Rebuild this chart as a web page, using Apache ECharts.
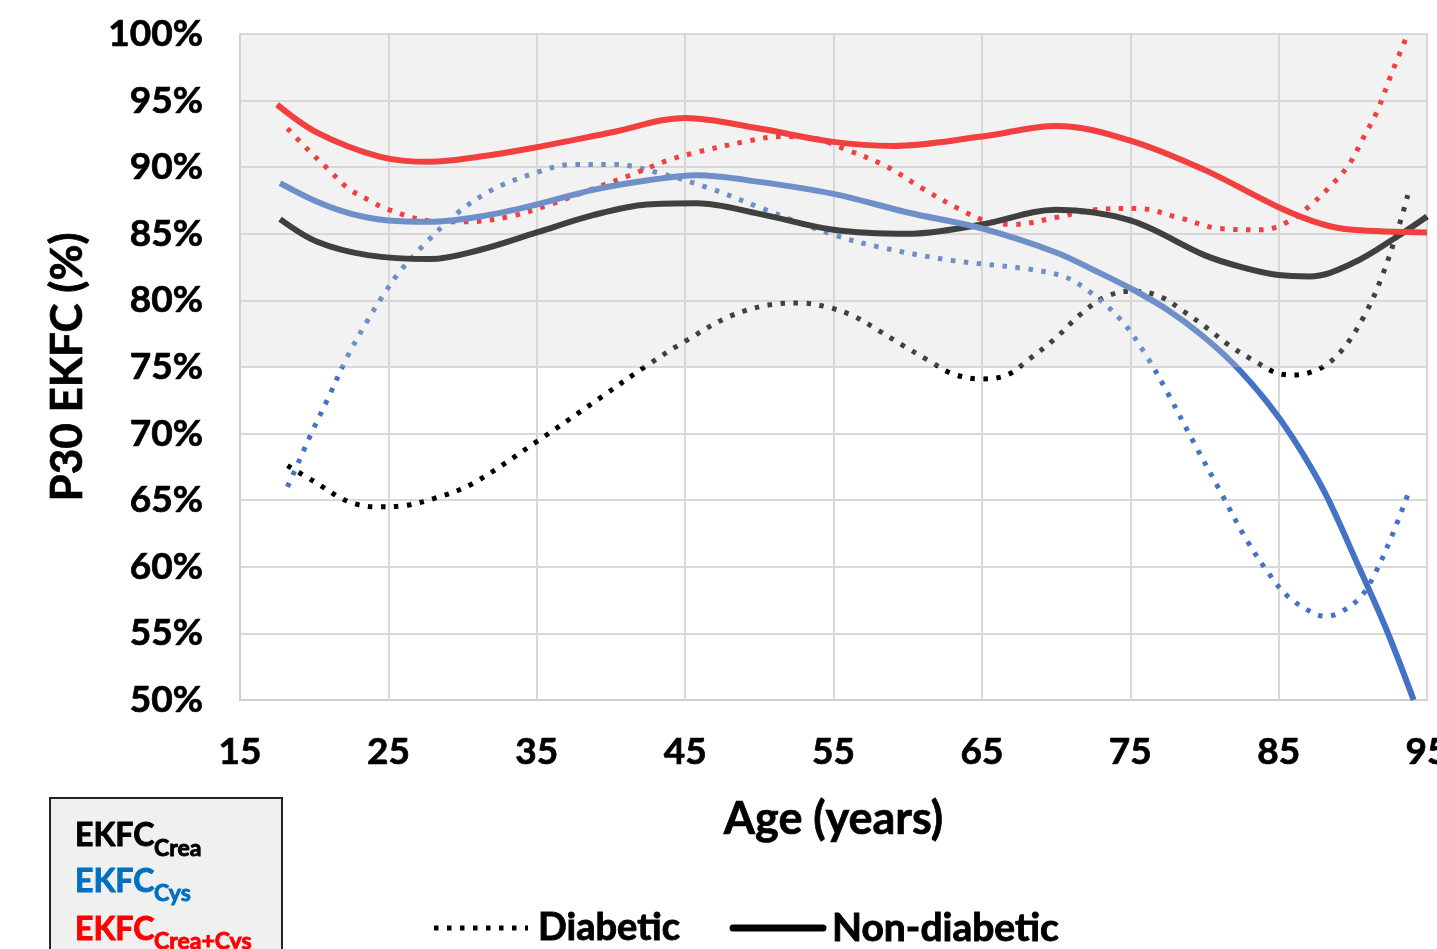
<!DOCTYPE html>
<html>
<head>
<meta charset="utf-8">
<script src="https://cdn.jsdelivr.net/npm/echarts@6/dist/echarts.min.js"></script>
<style>
  html, body { margin: 0; padding: 0; background: #fff; }
  #chart { width: 1437px; height: 949px; }
</style>
</head>
<body>
<div id="chart"></div>
<script>
// ages (x) and P30 values (%)
const creaNonAge = [17.7, 20.2, 23.6, 27.8, 31.2, 35, 38.8, 42.4, 45.8, 50, 55, 60, 65, 70, 75, 80, 82.5, 85, 87.1, 90, 93, 95];
const creaNon = [86.1, 84.4, 83.4, 83.1, 83.8, 85.1, 86.4, 87.2, 87.3, 86.5, 85.3, 85.0, 85.7, 86.8, 86.0, 83.4, 82.5, 81.9, 81.8, 82.8, 84.8, 86.3];

const cysNonAge = [17.7, 20.2, 22.5, 25, 27.8, 31.2, 35, 38.8, 42.4, 45.8, 50, 55, 60, 65, 70, 72.5, 75.2, 77.5, 79.7, 81.9, 84.2, 86.0, 88.1, 90.4, 92.3, 94.1];
const cysNon = [88.8, 87.4, 86.5, 86.0, 85.9, 86.3, 87.2, 88.3, 89.0, 89.4, 88.9, 88.0, 86.6, 85.4, 83.6, 82.3, 80.8, 79.3, 77.5, 75.3, 72.4, 69.6, 65.6, 60.0, 55.2, 50.0];

const bothNonAge = [17.5, 20.2, 24.4, 27.8, 31.2, 35, 40, 45, 50, 55, 59, 65, 70, 75, 80, 85, 88, 90, 95];
const bothNon = [94.7, 92.6, 90.8, 90.4, 90.8, 91.5, 92.6, 93.7, 92.9, 91.9, 91.6, 92.3, 93.1, 92.0, 89.8, 87.0, 85.7, 85.3, 85.1];

const creaDiaAge = [18.2, 20.0, 22.3, 24.2, 26.1, 28.0, 30.6, 35.0, 39.3, 42.4, 45.1, 48.0, 50.9, 52.7, 54.6, 56.4, 58.1, 59.7, 61.4, 63.0, 64.9, 66.7, 68.2, 69.8, 71.8, 73.4, 75.2, 77.0, 78.7, 80.2, 81.7, 83.3, 85.0, 86.0, 87.8, 89.3, 90.8, 92.0, 93.2, 93.7];
const creaDia = [67.6, 66.4, 64.9, 64.5, 64.6, 65.1, 66.2, 69.4, 72.7, 75.1, 77.0, 78.8, 79.7, 79.8, 79.5, 78.8, 77.7, 76.6, 75.5, 74.5, 74.1, 74.4, 75.6, 77.0, 79.1, 80.3, 80.7, 80.3, 79.1, 77.9, 76.6, 75.5, 74.5, 74.4, 74.9, 76.3, 78.9, 81.9, 85.9, 87.9];

const cysDiaAge = [18.2, 19.0, 19.8, 21.0, 22.2, 23.6, 24.6, 25.8, 27.6, 29.7, 32.0, 34.7, 37.4, 40.3, 43.1, 46.7, 50.2, 54.8, 58.1, 63.0, 67.8, 70.5, 72.2, 74.4, 76.0, 77.4, 79.2, 81.0, 82.8, 84.4, 85.6, 87.2, 88.1, 89.0, 90.5, 91.5, 92.7, 93.7];
const cysDia = [66.0, 68.0, 70.0, 72.8, 75.7, 78.5, 80.3, 82.2, 84.4, 86.6, 88.3, 89.5, 90.2, 90.2, 89.6, 88.4, 86.9, 85.0, 84.0, 83.0, 82.4, 81.8, 80.7, 78.5, 76.0, 73.3, 69.5, 65.8, 62.1, 59.4, 57.8, 56.6, 56.3, 56.5, 57.7, 59.5, 62.5, 65.4];

const bothDiaAge = [18.2, 19.5, 20.9, 22.3, 23.9, 24.8, 27.6, 30.3, 33.2, 35.9, 38.6, 41.3, 43.8, 45.7, 49.4, 51.4, 53.5, 55.9, 58.5, 61.0, 63.4, 65.2, 67.1, 69.9, 72.6, 75.5, 78.3, 81.0, 83.9, 85.8, 87.2, 88.6, 89.8, 90.7, 91.6, 92.6, 93.7];
const bothDia = [92.9, 91.4, 89.9, 88.4, 87.4, 86.9, 86.0, 85.9, 86.3, 87.2, 88.3, 89.4, 90.5, 91.1, 92.0, 92.3, 92.2, 91.3, 90.1, 88.4, 86.9, 86.0, 85.7, 86.2, 86.8, 86.9, 86.2, 85.4, 85.3, 86.0, 87.2, 88.7, 90.3, 92.2, 94.1, 97.0, 100.0];

const FONT = "Lato, 'Open Sans', sans-serif";

const zip = (xs, ys) => xs.map((x, i) => [x, ys[i]]);

const myChart = echarts.init(document.getElementById('chart'));

function solid(name, color, ages, vals) {
    return {
        name: name,
        type: 'line',
        data: zip(ages, vals),
        smooth: 0.35,
        showSymbol: false,
        symbol: 'none',
        z: 3,
        lineStyle: { color: color, width: 6 }
    };
}
function dotted(name, color, ages, vals) {
    return {
        name: name,
        type: 'line',
        data: zip(ages, vals),
        smooth: 0.35,
        showSymbol: false,
        symbol: 'none',
        z: 2,
        lineStyle: { color: color, width: 5, type: [4.5, 8.5] }
    };
}
// heavy bold text (thin outline in the same colour) for the legend boxes
function label(text, x, y, size, color) {
    return {
        type: 'text', x: x, y: y,
        style: {
            text: text, fill: color, fontFamily: FONT, fontSize: size, fontWeight: 'bold',
            stroke: color, lineWidth: 0.9, verticalAlign: 'middle'
        }
    };
}
const axisText = (size) => ({
    fontFamily: FONT, fontSize: size, fontWeight: 'bold', color: '#000',
    textBorderColor: '#000', textBorderWidth: 0.7
});

const option = {
    backgroundColor: '#fff',
    animation: false,
    grid: {
        left: 240,
        right: 10,
        top: 34,
        bottom: 249,
        show: true,
        borderColor: '#d9d9d9',
        borderWidth: 2,
        outerBoundsMode: 'none'
    },
    xAxis: {
        type: 'value',
        min: 15,
        max: 95,
        interval: 10,
        name: 'Age (years)',
        nameLocation: 'middle',
        nameGap: 97,
        nameTextStyle: axisText(45),
        axisLine: { show: true, lineStyle: { color: '#d0d0d0', width: 2 } },
        axisTick: { show: false },
        axisLabel: Object.assign(axisText(37), { margin: 34 }),
        splitLine: { show: true, lineStyle: { color: '#d9d9d9', width: 2 } }
    },
    yAxis: {
        type: 'value',
        min: 50,
        max: 100,
        interval: 5,
        name: 'P30 EKFC (%)',
        nameLocation: 'middle',
        nameGap: 150,
        nameTextStyle: axisText(44),
        axisLine: { show: true, lineStyle: { color: '#d0d0d0', width: 2 } },
        axisTick: { show: false },
        axisLabel: Object.assign(axisText(37), { margin: 37, formatter: '{value}%' }),
        splitLine: { show: true, lineStyle: { color: '#d9d9d9', width: 2 } }
    },
    series: [
        dotted('EKFC Crea diabetic', '#000000', creaDiaAge, creaDia),
        dotted('EKFC Cys diabetic', '#4472c4', cysDiaAge, cysDia),
        dotted('EKFC Crea+Cys diabetic', '#ff0000', bothDiaAge, bothDia),
        solid('EKFC Crea non-diabetic', '#000000', creaNonAge, creaNon),
        solid('EKFC Cys non-diabetic', '#4472c4', cysNonAge, cysNon),
        solid('EKFC Crea+Cys non-diabetic', '#ff0000', bothNonAge, bothNon),
        {
            // grey band 75-100 %, laid over the lines like the original
            name: 'band',
            type: 'line',
            data: [],
            z: 10,
            silent: true,
            markArea: {
                silent: true,
                z: 10,
                itemStyle: { color: 'rgba(212,212,212,0.3)' },
                data: [[{ yAxis: 75 }, { yAxis: 100 }]]
            }
        }
    ],
    graphic: [
        {
            type: 'rect',
            shape: { x: 50, y: 798, width: 232, height: 170 },
            style: { fill: '#f0f0f0', stroke: '#222', lineWidth: 2 }
        },
        label('EKFC', 75, 836, 32, '#000'),
        label('Crea', 154, 849, 23, '#000'),
        label('EKFC', 75, 882, 32, '#0070c0'),
        label('Cys', 154, 894, 23, '#0070c0'),
        label('EKFC', 75, 930, 32, '#ff0000'),
        label('Crea+Cys', 154, 942, 23, '#ff0000'),
        {
            type: 'line',
            shape: { x1: 434, y1: 928, x2: 528, y2: 928 },
            style: { stroke: '#000', lineWidth: 5, lineDash: [4.5, 8.5] }
        },
        label('Diabetic', 538, 928, 38, '#000'),
        {
            type: 'line',
            shape: { x1: 733, y1: 928, x2: 823, y2: 928 },
            style: { stroke: '#000', lineWidth: 7, lineCap: 'round' }
        },
        label('Non-diabetic', 832, 928, 39, '#000')
    ]
};

myChart.setOption(option);
window.addEventListener('resize', function () {
    myChart.resize();
});
</script>
</body>
</html>
